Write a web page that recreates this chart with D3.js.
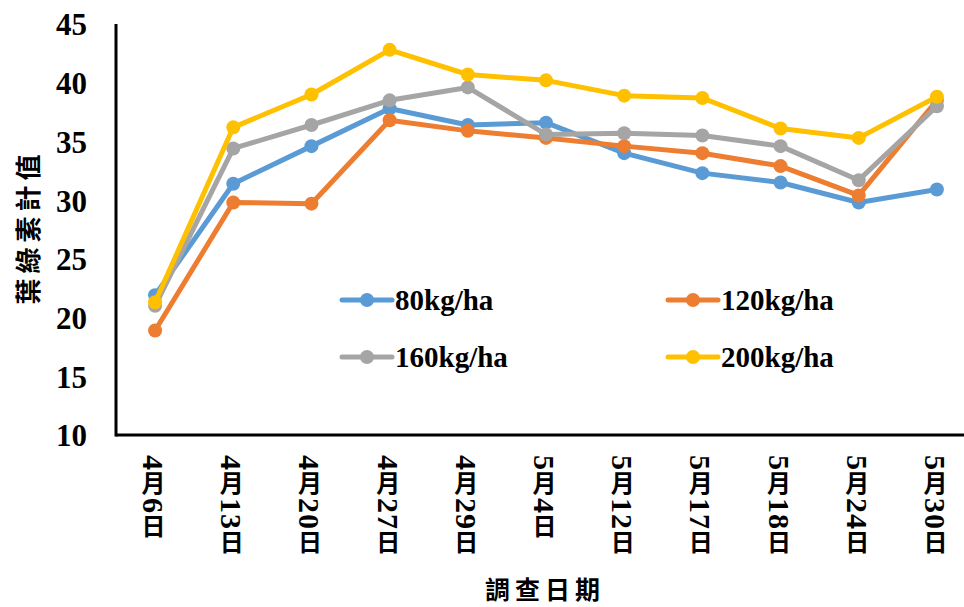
<!DOCTYPE html>
<html>
<head>
<meta charset="utf-8">
<script src="https://cdn.jsdelivr.net/npm/d3@7"></script>
<style>
  html, body { margin: 0; padding: 0; background: #fff; }
  svg { display: block; }
  .serif { font-family: "Liberation Serif", "Times New Roman", "Noto Sans CJK TC", serif; font-weight: bold; }
</style>
</head>
<body>
<svg id="chart" width="964" height="607"></svg>
<script>
// Survey dates
const categories = ["4月6日", "4月13日", "4月20日", "4月27日", "4月29日", "5月4日",
                    "5月12日", "5月17日", "5月18日", "5月24日", "5月30日"];

// Chlorophyll meter readings per nitrogen rate
const n80  = [21.9, 31.4, 34.6, 37.8, 36.4, 36.6, 34.0, 32.3, 31.5, 29.8, 30.9];
const n120 = [18.9, 29.8, 29.7, 36.8, 35.9, 35.3, 34.6, 34.0, 32.9, 30.4, 38.5];
const n160 = [21.0, 34.4, 36.4, 38.5, 39.6, 35.6, 35.7, 35.5, 34.6, 31.7, 38.0];
const n200 = [21.3, 36.2, 39.0, 42.8, 40.7, 40.2, 38.9, 38.7, 36.1, 35.3, 38.8];

const seriesNames = ["80kg/ha", "120kg/ha", "160kg/ha", "200kg/ha"];
const yTicks = [10, 15, 20, 25, 30, 35, 40, 45];

const yTitle = "葉綠素計值";
const xTitle = "調查日期";

const colors = ["#5B9BD5", "#ED7D31", "#A5A5A5", "#FFC000"];
const seriesValues = [n80, n120, n160, n200];

(function draw() {
  const svg = d3.select("#chart");
  const W = 964;
  const mLeft = 116, mRight = 976, mTop = 24, mBottom = 435;

  const x = d3.scalePoint().domain(categories).range([mLeft, mRight]).padding(0.5);
  const y = d3.scaleLinear().domain([10, 45]).range([mBottom, mTop]);

  // Y tick labels
  const yAxis = d3.axisLeft(y).tickValues(yTicks).tickSize(0).tickPadding(29).tickFormat(d3.format("d"));
  const gy = svg.append("g").attr("transform", `translate(${mLeft},0)`).call(yAxis);
  gy.select(".domain").remove();
  gy.selectAll("text")
    .attr("class", "serif")
    .attr("font-size", 31)
    .attr("fill", "#000")
    .attr("dy", "0.35em");

  // X tick labels, written vertically: digits turned sideways, CJK upright
  const xAxis = d3.axisBottom(x).tickSize(0).tickPadding(0);
  const gx = svg.append("g").attr("transform", `translate(0,${mBottom})`).call(xAxis);
  gx.select(".domain").remove();
  gx.selectAll("text").each(function(d) {
    const t = d3.select(this);
    t.text(null)
      .attr("class", "serif")
      .attr("fill", "#000")
      .attr("y", 20)
      .attr("dy", 0)
      .attr("x", -2)
      .attr("text-anchor", "start")
      .style("writing-mode", "vertical-rl");
    const runs = d.match(/[0-9]+|[^0-9]+/g);
    runs.forEach(r => {
      const isNum = /^[0-9]+$/.test(r);
      t.append("tspan")
        .attr("font-size", isNum ? 30 : 24)
        .attr("letter-spacing", isNum ? 1 : 3)
        .attr("font-family", isNum ? "'Liberation Serif', serif" : "'Noto Sans CJK TC', sans-serif")
        .text(r);
    });
  });

  // Axis lines
  svg.append("line").attr("x1", mLeft).attr("x2", mLeft).attr("y1", mTop).attr("y2", mBottom + 1.5)
    .attr("stroke", "#000").attr("stroke-width", 3);
  svg.append("line").attr("x1", mLeft).attr("x2", W).attr("y1", mBottom).attr("y2", mBottom)
    .attr("stroke", "#000").attr("stroke-width", 3);

  // Series lines and markers
  const line = d3.line().x((d, i) => x(categories[i])).y(d => y(d));
  seriesValues.forEach((vals, s) => {
    const g = svg.append("g");
    g.append("path").datum(vals)
      .attr("d", line)
      .attr("fill", "none")
      .attr("stroke", colors[s])
      .attr("stroke-width", 5)
      .attr("stroke-linejoin", "round");
    g.selectAll("circle").data(vals).join("circle")
      .attr("cx", (d, i) => x(categories[i]))
      .attr("cy", d => y(d))
      .attr("r", 7)
      .attr("fill", colors[s]);
  });

  // Legend
  const legendPos = [[342, 300], [668, 300], [342, 357], [668, 357]];
  seriesNames.forEach((name, s) => {
    const [lx, ly] = legendPos[s];
    const g = svg.append("g").attr("transform", `translate(${lx},${ly})`);
    g.append("line").attr("x1", 0).attr("x2", 50).attr("y1", 0).attr("y2", 0)
      .attr("stroke", colors[s]).attr("stroke-width", 5).attr("stroke-linecap", "round");
    g.append("circle").attr("cx", 25).attr("cy", 0).attr("r", 7).attr("fill", colors[s]);
    g.append("text").attr("class", "serif").attr("x", 53).attr("y", 0).attr("dy", "0.35em")
      .attr("font-size", 29).attr("fill", "#000").text(name);
  });

  // Axis titles
  svg.append("text")
    .attr("transform", `translate(29,227) rotate(-90)`)
    .attr("text-anchor", "middle")
    .attr("dy", "0.35em")
    .attr("font-family", "'Noto Sans CJK TC', sans-serif")
    .attr("font-weight", "bold")
    .attr("font-size", 26)
    .attr("letter-spacing", 5)
    .attr("fill", "#000")
    .text(yTitle);

  svg.append("text")
    .attr("x", 545).attr("y", 590)
    .attr("text-anchor", "middle")
    .attr("dy", "0.35em")
    .attr("font-family", "'Noto Sans CJK TC', sans-serif")
    .attr("font-weight", "bold")
    .attr("font-size", 25)
    .attr("letter-spacing", 5)
    .attr("fill", "#000")
    .text(xTitle);
})();
</script>
</body>
</html>
